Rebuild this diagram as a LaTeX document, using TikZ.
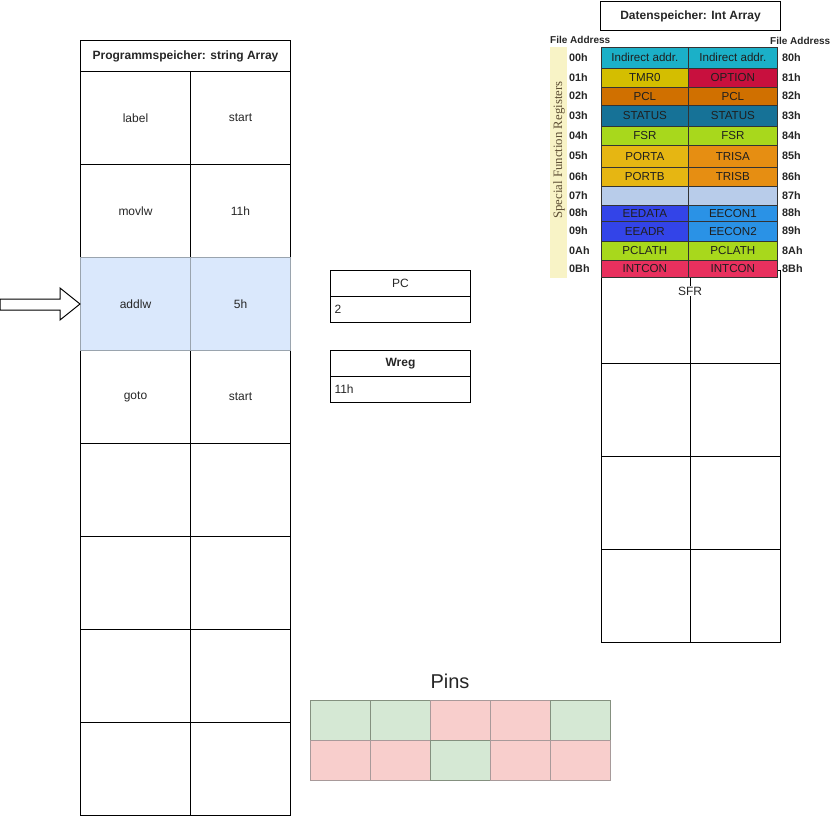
\documentclass[tikz,border=0pt]{standalone}
\usepackage{fontspec}
\setmainfont{Liberation Sans}
\newfontfamily\sfrserif{Liberation Serif}
\definecolor{hl}{HTML}{DAE8FC}
\definecolor{hlline}{HTML}{9AA4AE}
\definecolor{pgreen}{HTML}{D5E8D4}
\definecolor{pred}{HTML}{F8CECC}
\definecolor{pgline}{HTML}{84907F}
\definecolor{prline}{HTML}{A89A9A}
\definecolor{strip}{HTML}{F8F3C6}
\definecolor{sfrtext}{HTML}{5E4F34}
\definecolor{cA}{HTML}{1BB0C8}
\definecolor{cB}{HTML}{D4BE00}
\definecolor{cC}{HTML}{C8103E}
\definecolor{cD}{HTML}{D07000}
\definecolor{cE}{HTML}{167297}
\definecolor{cF}{HTML}{A8D81C}
\definecolor{cG}{HTML}{E6B612}
\definecolor{cH}{HTML}{E68E12}
\definecolor{cI}{HTML}{B8CCEA}
\definecolor{cJ}{HTML}{3344E8}
\definecolor{cK}{HTML}{2A92E6}
\definecolor{cL}{HTML}{E8305E}
\begin{document}
\begin{tikzpicture}[x=1pt,y=-1pt,
  cell/.style={draw=black, line width=1pt, anchor=north west, inner sep=0pt,
    font=\fontsize{12}{14}\selectfont, text=black!85},
  boldcell/.style={cell, font=\bfseries\fontsize{12}{14}\selectfont},
  valcell/.style={cell, text width=132pt, align=left, inner xsep=4pt, minimum width=140},
  reg/.style={draw=black!80, line width=0.7pt, anchor=north west, inner sep=0pt,
    font=\fontsize{11.6}{13}\selectfont, text=black!88},
  addr/.style={font=\bfseries\fontsize{10}{12}\selectfont, text=black!85, inner sep=0pt},
  raddr/.style={addr, font=\bfseries\fontsize{10.8}{12}\selectfont},
  pin/.style={line width=0.8pt, anchor=north west, inner sep=0pt, minimum width=60, minimum height=40},
  gpin/.style={pin, draw=pgline, fill=pgreen},
  rpin/.style={pin, draw=prline, fill=pred}]
\useasboundingbox (0,0) rectangle (835,816);

% ---------- Programmspeicher ----------
\node[boldcell, minimum width=210, minimum height=31] (ph) at (80,40) {Programmspeicher: string Array};
\foreach \r/\a/\b in {0/label/start,1/movlw/11h,3/goto/start,4//,5//,6//,7//} {
  \node[cell, minimum width=110, minimum height=93] (pa\r) at (80,{71+93*\r}) {\a};
  \node[cell, minimum width=100, minimum height=93] (pb\r) at (190,{71+93*\r}) {\b};
}
\node[cell, draw=hlline, fill=hl, minimum width=110, minimum height=93] (pa2) at (80,257) {addlw};
\node[cell, draw=hlline, fill=hl, minimum width=100, minimum height=93] (pb2) at (190,257) {5h};

% pointer arrow
\coordinate (tip) at (pa2.west);
\draw[line width=1pt, fill=white] (tip) -- ++(-20,-16) -- ++(0,11) -- ++(-60,0) -- ++(0,11)
  -- ++(60,0) -- ++(0,10) -- cycle;

% ---------- PC / Wreg ----------
\node[cell, minimum width=140, minimum height=26] (pch) at (330,270) {PC};
\node[valcell, minimum height=26] (pcv) at (330,296) {2};
\node[boldcell, minimum width=140, minimum height=26] (wh) at (330,350) {Wreg};
\node[valcell, minimum height=26] (wv) at (330,376) {11h};

% ---------- Datenspeicher ----------
\node[boldcell, minimum width=180, minimum height=29] (dh) at (600,1) {Datenspeicher: Int Array};

% lower data table
\foreach \r in {0,1,2,3} {
  \node[cell, minimum width=89, minimum height=93] (da\r) at (601,{270+93*\r}) {};
  \node[cell, minimum width=90, minimum height=93] (db\r) at (690,{270+93*\r}) {};
}
\node[fill=white, inner sep=1pt, font=\fontsize{12}{14}\selectfont, text=black!85] (sfr) at (690,291) {SFR};

% SFR register image
\fill[strip] (550,47) rectangle (567,278);
\node[rotate=90, font=\sfrserif\fontsize{12.8}{14}\selectfont, text=sfrtext, inner sep=0pt] (sfrl) at (559,150) {Special Function Registers};
\node[addr, anchor=west] (fal) at (550,40) {File Address};
\node[addr, anchor=west] (far) at (770,41) {File Address};
\foreach \i/\t/\b/\lt/\lc/\rt/\rc/\la/\ra in {
  0/47/68/Indirect addr./cA/Indirect addr./cA/00h/80h,
  1/68/87/TMR0/cB/OPTION/cC/01h/81h,
  2/87/105/PCL/cD/PCL/cD/02h/82h,
  3/105/126/STATUS/cE/STATUS/cE/03h/83h,
  4/126/145/FSR/cF/FSR/cF/04h/84h,
  5/145/167/PORTA/cG/TRISA/cH/05h/85h,
  6/167/186/PORTB/cG/TRISB/cH/06h/86h,
  7/186/205//cI//cI/07h/87h,
  8/205/221/EEDATA/cJ/EECON1/cK/08h/88h,
  9/221/241/EEADR/cJ/EECON2/cK/09h/89h,
  10/241/260/PCLATH/cF/PCLATH/cF/0Ah/8Ah,
  11/260/277/INTCON/cL/INTCON/cL/0Bh/8Bh} {
  \pgfmathsetmacro\h{\b-\t}
  \node[reg, fill=\lc, minimum width=87, minimum height=\h] (rl\i) at (601,\t) {\lt};
  \node[reg, fill=\rc, minimum width=89, minimum height=\h] (rr\i) at (688,\t) {\rt};
  \node[raddr, anchor=west] (al\i) at (569,{(\t+\b)/2}) {\la};
  \node[raddr, anchor=west] (ar\i) at (782,{(\t+\b)/2}) {\ra};
}

% ---------- Pins ----------
\node[font=\fontsize{20}{24}\selectfont, text=black!85] (pins) at (450,681) {Pins};
\foreach \c/\s in {0/gpin,1/gpin,2/rpin,3/rpin,4/gpin} {
  \node[\s] (pt\c) at ({310+60*\c},700) {};
}
\foreach \c/\s in {0/rpin,1/rpin,2/gpin,3/rpin,4/rpin} {
  \node[\s] (pb\c) at ({310+60*\c},740) {};
}
\end{tikzpicture}
\end{document}
